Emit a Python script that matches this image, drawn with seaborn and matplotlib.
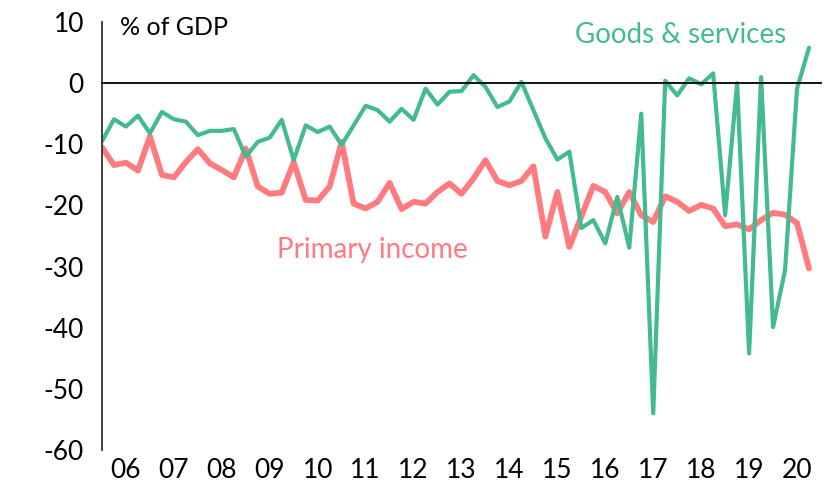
import numpy as np
import pandas as pd
import matplotlib
matplotlib.use("Agg")
import matplotlib.pyplot as plt
import seaborn as sns

# Quarterly data, 2006Q1 - 2020Q4, % of GDP
goods_services = [
    -9.5, -5.9, -7.1, -5.3, -8.2, -4.7, -5.9, -6.3,
    -8.5, -7.8, -7.8, -7.5, -12.0, -9.6, -8.9, -6.0,
    -12.6, -6.9, -8.0, -7.1, -10.1, -6.9, -3.7, -4.4,
    -6.3, -4.2, -6.0, -0.9, -3.5, -1.4, -1.3, 1.3,
    -0.6, -3.9, -3.0, 0.2, -4.4, -9.0, -12.5, -11.2,
    -23.7, -22.4, -26.2, -18.6, -26.9, -5.0, -54.0, 0.4,
    -2.0, 0.8, -0.2, 1.6, -21.6, 0.0, -44.2, 1.0,
    -39.9, -30.6, -0.9, 5.8,
]
primary_income = [
    -10.5, -13.4, -13.0, -14.3, -8.7, -15.0, -15.4, -12.9,
    -10.8, -13.1, -14.2, -15.4, -10.7, -16.9, -18.1, -17.9,
    -12.9, -19.1, -19.2, -16.9, -9.6, -19.7, -20.5, -19.4,
    -16.3, -20.6, -19.4, -19.7, -17.8, -16.4, -18.1, -15.6,
    -12.6, -16.0, -16.7, -16.0, -13.6, -25.1, -17.8, -26.8,
    -21.8, -16.8, -17.8, -21.3, -17.8, -21.6, -22.7, -18.5,
    -19.4, -20.9, -19.9, -20.5, -23.4, -23.1, -23.9, -22.4,
    -21.2, -21.5, -22.9, -30.3,
]
years = list(range(2006, 2021))
year_labels = [f"{y % 100:02d}" for y in years]
y_ticks = [10, 0, -10, -20, -30, -40, -50, -60]

GREEN = "#43BA92"
PINK = "#FF7B7F"

t = 2006 + np.arange(len(goods_services)) / 4
df = pd.DataFrame({"t": t, "goods": goods_services, "primary": primary_income})

sns.set_style("white")
plt.rcParams["font.family"] = ["Lato", "DejaVu Sans"]
plt.rcParams["axes.unicode_minus"] = False

fig = plt.figure(figsize=(8.34, 5.01), dpi=100)
ax = fig.add_axes([0.1223, 0.1018, 0.8621, 0.8542])

sns.lineplot(data=df, x="t", y="primary", ax=ax, color=PINK, lw=4.2)
sns.lineplot(data=df, x="t", y="goods", ax=ax, color=GREEN, lw=3.0)

ax.set_xlim(2006, 2021)
ax.set_ylim(-60, 10)
ax.set_xlabel("")
ax.set_ylabel("")

# zero line with year boundary ticks
for s in ["top", "right"]:
    ax.spines[s].set_visible(False)
ax.spines["bottom"].set_position(("data", 0))
ax.spines["bottom"].set_color("black")
ax.spines["bottom"].set_linewidth(1.3)
ax.spines["left"].set_color("#333333")
ax.spines["left"].set_linewidth(1.3)
ax.set_xticks(list(years) + [2021])
ax.tick_params(axis="x", direction="out", length=9, width=1.3,
               colors="#555555", labelbottom=False)

ax.set_yticks(y_ticks)
ax.set_yticklabels([str(v) for v in y_ticks])
ax.tick_params(axis="y", direction="out", length=7, width=1.3,
               colors="#333333", labelcolor="black", labelsize=19, pad=6)

# year labels at the bottom
sec = ax.secondary_xaxis(location=0.0)
sec.set_xticks([y + 0.5 for y in years])
sec.set_xticklabels(year_labels)
sec.tick_params(length=0, labelsize=19, pad=6, labelcolor="black")
sec.spines["bottom"].set_visible(False)

ax.text(2006.375, 9.1, "% of GDP", fontsize=18, ha="left", va="center",
        color="black")
ax.text(2018.08, 7.8, "Goods & services", fontsize=20, ha="center",
        va="center", color=GREEN)
ax.text(2011.65, -27.3, "Primary income", fontsize=20, ha="center",
        va="center", color=PINK)

fig.savefig("out.png", dpi=100)
